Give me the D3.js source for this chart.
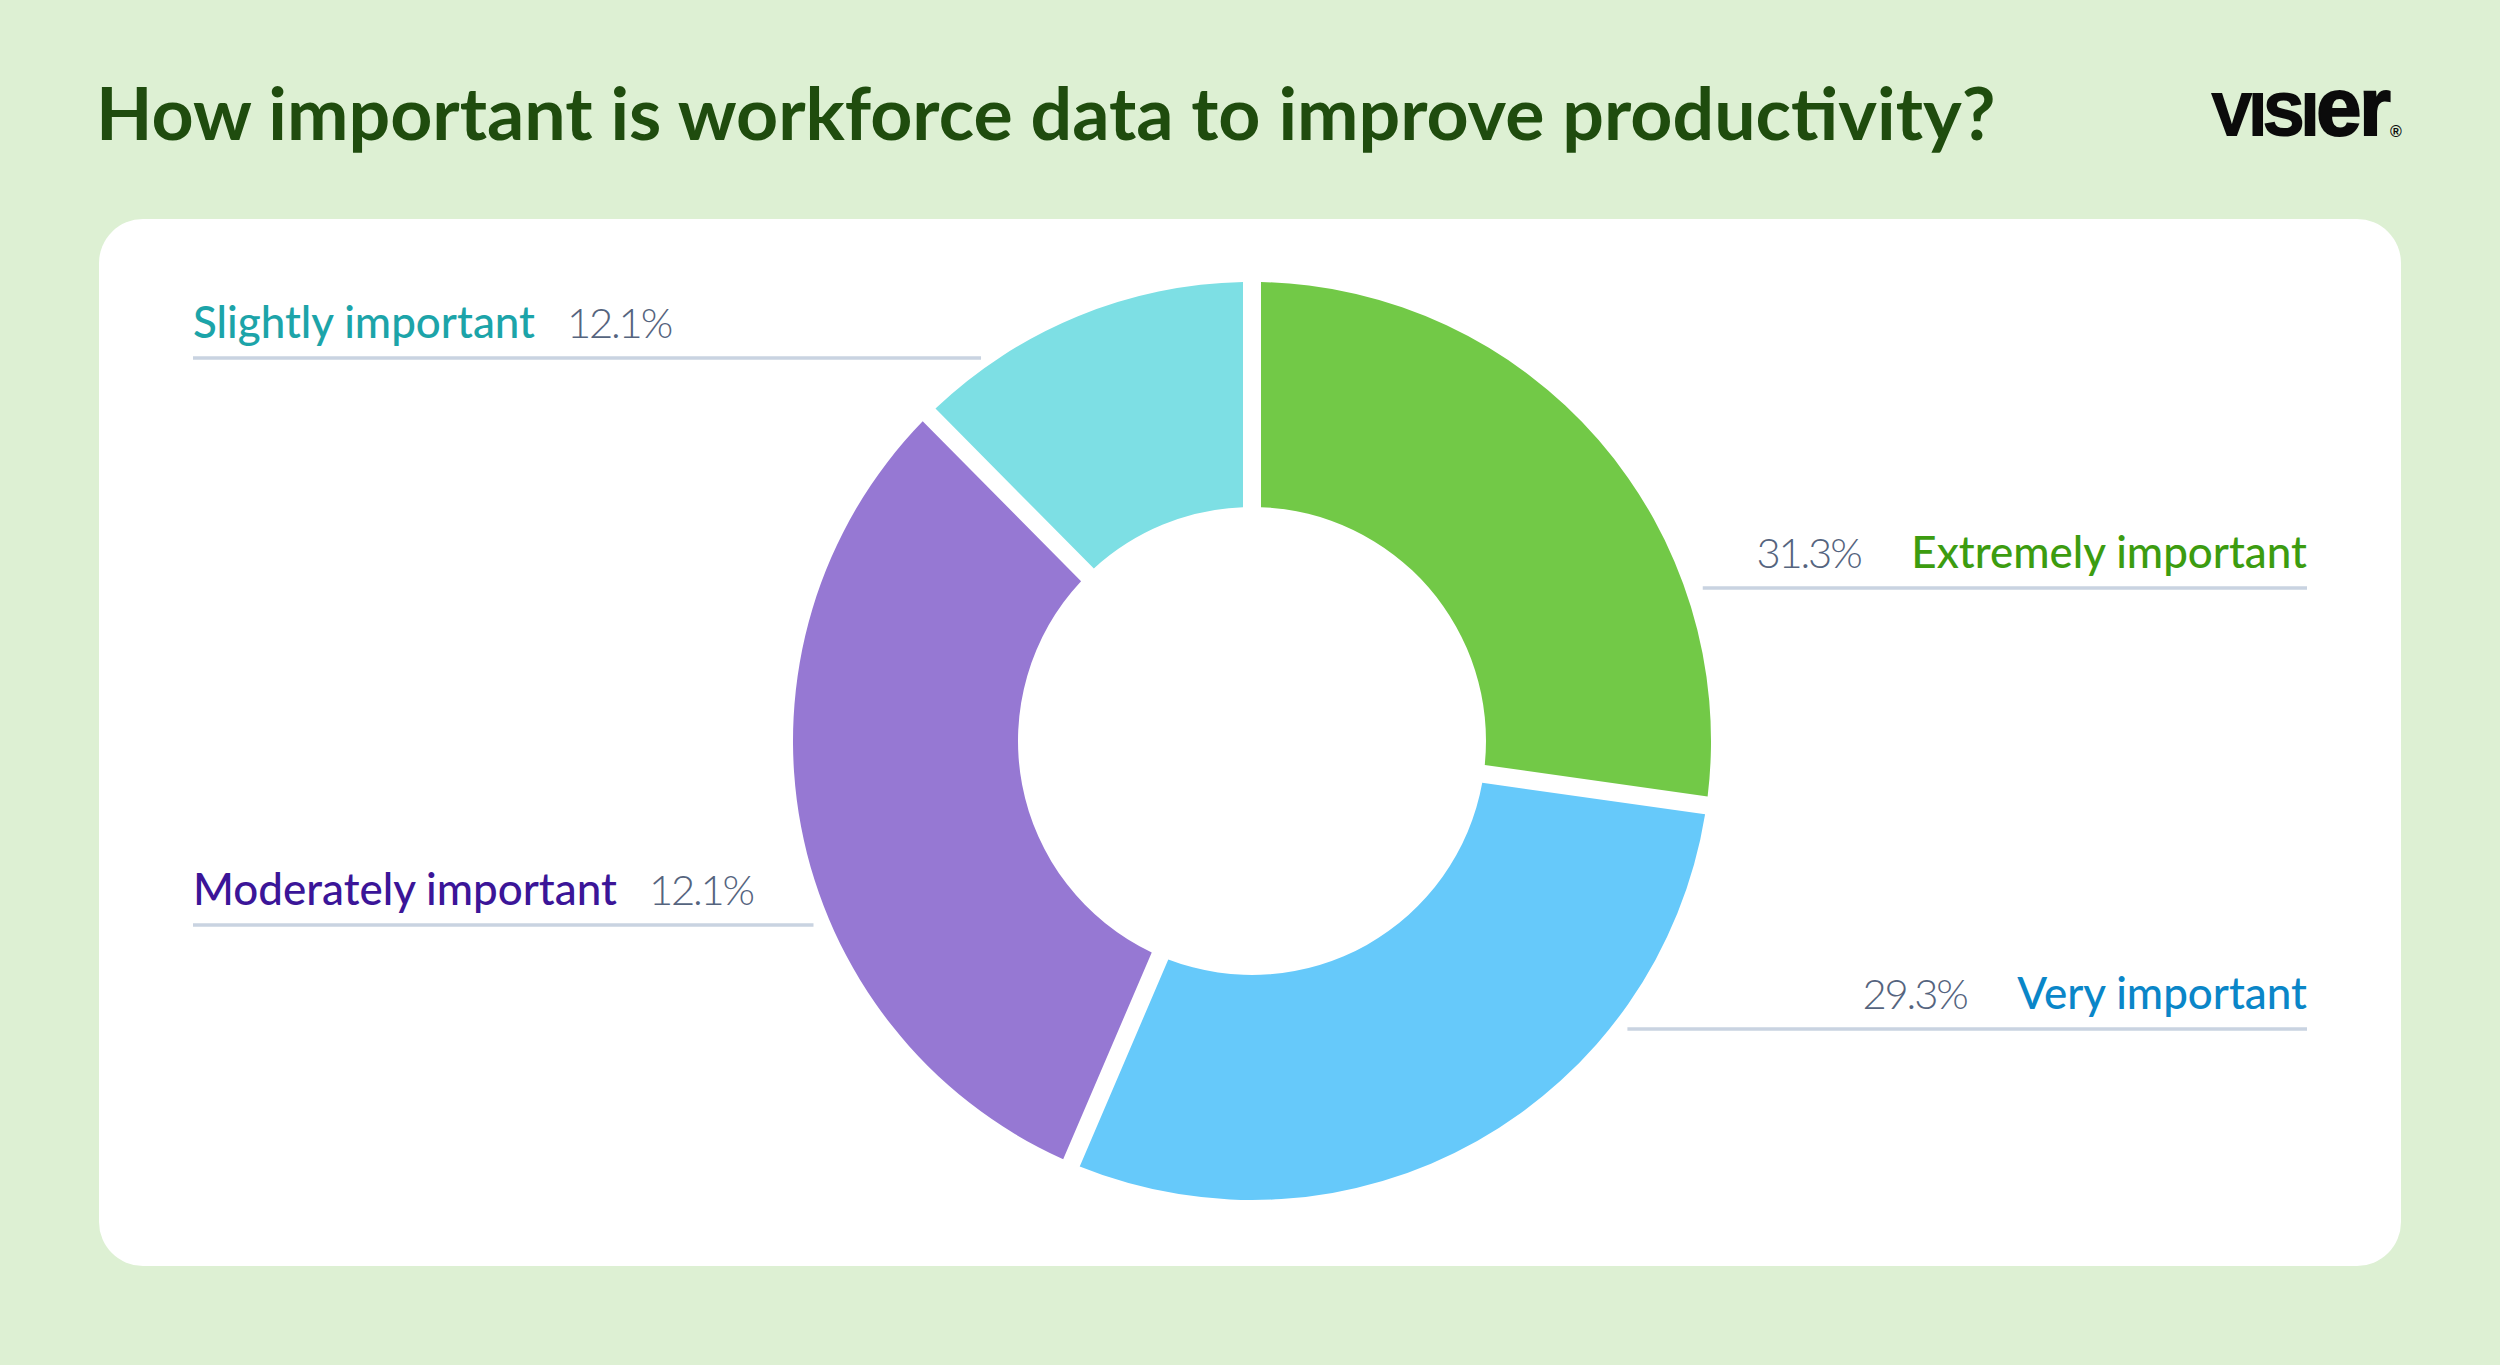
<!DOCTYPE html>
<html>
<head>
<meta charset="utf-8">
<script src="https://cdn.jsdelivr.net/npm/d3@7"></script>
<style>
  html, body { margin: 0; padding: 0; background: #ddf0d3; }
  svg { display: block; }
</style>
</head>
<body>
<div id="chart"></div>
<script>
var svgWidth = 2500;
var svgHeight = 1365;

// Data
// order of the ring, clockwise from 12 o'clock
var categories = ["Extremely important", "Very important", "Moderately important", "Slightly important"];
// share of the ring each slice takes, as drawn
var sliceValues = [27.3, 29.3, 31.3, 12.1];
// percentage printed next to each label (as printed on the chart)
var labelValues = [31.3, 29.3, 12.1, 12.1];

var title = "How important is workforce data to improve productivity?";

var sliceColor = d3.scaleOrdinal(categories, ["#72c947", "#66c9fa", "#9678d3", "#7ddfe4"]);
var textColor = d3.scaleOrdinal(categories, ["#3c9c10", "#0a86c8", "#3b1598", "#1ca4a9"]);

// layout
var cx = 1252, cy = 741;
var outerR = 459, innerR = 234;
var gap = 18;
var labelRows = {
  "Extremely important": { side: "right", y: 588 },
  "Very important": { side: "right", y: 1029 },
  "Moderately important": { side: "left", y: 925 },
  "Slightly important": { side: "left", y: 358 }
};
var leftX = 193, rightX = 2307;

var svg = d3.select("#chart")
  .append("svg")
  .attr("width", svgWidth)
  .attr("height", svgHeight);

svg.append("rect")
  .attr("width", svgWidth)
  .attr("height", svgHeight)
  .attr("fill", "#ddf0d3");

// title, sized to span the same width as the original
var titleText = svg.append("text")
  .attr("x", 96)
  .attr("y", 140)
  .attr("font-family", "Lato, 'Open Sans', sans-serif")
  .attr("font-weight", 700)
  .attr("font-size", 62)
  .attr("fill", "#1f4c0e")
  .text(title);
var tw = titleText.node().getComputedTextLength();
titleText.attr("font-size", 62 * 1900 / tw);

// logo
var logo = svg.append("text")
  .attr("x", 2212)
  .attr("y", 135)
  .attr("font-family", "'Liberation Sans', Arial, sans-serif")
  .attr("font-weight", 700)
  .attr("fill", "#0b0b0b")
  .attr("stroke", "#0b0b0b")
  .attr("stroke-width", 2)
  .attr("letter-spacing", -2);
logo.append("tspan").attr("font-size", 60).text("VISI");
logo.append("tspan").attr("font-size", 82).text("er");
var lw = logo.node().getComputedTextLength();
logo.attr("transform", "translate(2212,0) scale(" + (177 / lw) + ",1) translate(-2212,0)");
svg.append("text")
  .attr("x", 2396)
  .attr("y", 137)
  .attr("text-anchor", "middle")
  .attr("font-family", "'Liberation Sans', Arial, sans-serif")
  .attr("font-size", 16)
  .attr("font-weight", 700)
  .attr("fill", "#0b0b0b")
  .text("®");

// white card
svg.append("rect")
  .attr("x", 99)
  .attr("y", 219)
  .attr("width", 2302)
  .attr("height", 1047)
  .attr("rx", 44)
  .attr("fill", "#ffffff");

// donut
var pie = d3.pie()
  .sort(null)
  .value(function(d) { return d.value; })
  .padAngle(gap / outerR);

var arc = d3.arc()
  .innerRadius(innerR)
  .outerRadius(outerR)
  .padRadius(outerR);

var slices = categories.map(function(c, i) {
  return { name: c, value: sliceValues[i], label: labelValues[i] };
});

var chartGroup = svg.append("g")
  .attr("transform", "translate(" + cx + "," + cy + ")");

chartGroup.selectAll("path")
  .data(pie(slices))
  .enter()
  .append("path")
  .attr("d", arc)
  .attr("fill", function(d) { return sliceColor(d.data.name); });

// labels with leader lines
var fontFamily = "Lato, 'Open Sans', sans-serif";
var pctFormat = function(v) { return d3.format(".1f")(v) + "%"; };

// size the label font so "Moderately important" is as wide as in the original
var probe = svg.append("text")
  .attr("font-family", fontFamily)
  .attr("font-size", 44)
  .attr("font-weight", 500)
  .text("Moderately important");
var labelSize = 44 * 424 / probe.node().getComputedTextLength();
// the percentages use narrower figures in the original: tighten them to width
probe.attr("font-weight", 300).attr("font-size", labelSize * 0.95).text(pctFormat(31.3));
var pctSpacing = (104 - probe.node().getComputedTextLength()) / 5;
probe.remove();

slices.forEach(function(d) {
  var row = labelRows[d.name];
  var dy = row.y - cy;
  var edge = Math.sqrt(outerR * outerR - dy * dy) + gap;
  var g = svg.append("g");

  var label = g.append("text")
    .attr("y", row.y - 20)
    .attr("font-family", fontFamily)
    .attr("font-size", labelSize)
    .attr("font-weight", 500)
    .attr("fill", textColor(d.name))
    .text(d.name);
  var lwid = label.node().getComputedTextLength();

  var pct = g.append("text")
    .attr("y", row.y - 20)
    .attr("font-family", fontFamily)
    .attr("font-size", labelSize * 0.95)
    .attr("font-weight", 300)
    .attr("letter-spacing", pctSpacing)
    .attr("fill", "#55647e")
    .text(pctFormat(d.label));

  var x1, x2;
  if (row.side === "left") {
    label.attr("x", leftX).attr("text-anchor", "start");
    pct.attr("x", leftX + lwid + 32).attr("text-anchor", "start");
    x1 = leftX; x2 = cx - edge;
  } else {
    label.attr("x", rightX).attr("text-anchor", "end");
    pct.attr("x", rightX - lwid - 53 - pctSpacing).attr("text-anchor", "end");
    x1 = cx + edge; x2 = rightX;
  }

  g.append("line")
    .attr("x1", x1)
    .attr("x2", x2)
    .attr("y1", row.y)
    .attr("y2", row.y)
    .attr("stroke", "#c9d3e1")
    .attr("stroke-width", 3.5);
});
</script>
</body>
</html>
